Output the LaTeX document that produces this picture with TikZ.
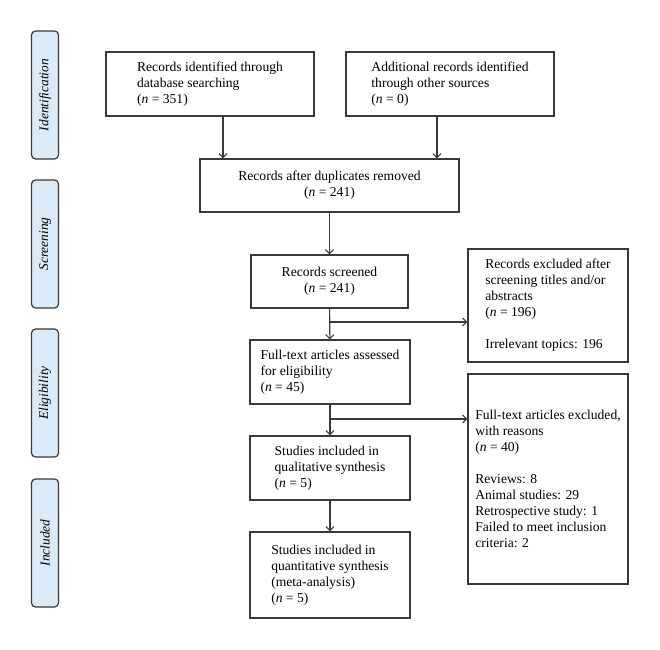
\documentclass[tikz,border=0pt]{standalone}
\usepackage{fontspec}
\setmainfont{Liberation Serif}
\usetikzlibrary{arrows.meta}
\definecolor{colorLine}{RGB}{60,56,52}
\definecolor{colorStage}{RGB}{219,234,247}
\tikzset{
   every path/.style={>={Straight Barb[length=4pt,width=8pt]}},
   box/.style={draw=colorLine,line width=1.2pt,inner sep=0pt,font=\fontsize{13.6}{16}\selectfont},
   stage/.style={draw=colorLine,fill=colorStage,line width=1.2pt,rounded corners=4pt,rotate=90,
     minimum width=128pt,minimum height=27pt,inner sep=0pt,font=\fontsize{13.4}{16}\selectfont\itshape},
   flow/.style={->,color=colorLine,line width=1.1pt},
 }
\newcommand{\dflow}[2]{\draw[flow] (#1) -- (#2)}
\newcommand{\nn}[1]{(\textit{n} = #1)}

\begin{document}
\begin{tikzpicture}[x=1pt,y=-1pt]
      \useasboundingbox (0,0) rectangle (660,649);
      % stages
      \node[stage] (StId) at (45,95) {Identification};
      \node[stage] (StScr) at (45,244) {Screening};
      \node[stage] (StEli) at (45,393) {Eligibility};
      \node[stage] (StInc) at (45,543) {Included};

      \node[box, minimum width=208pt, minimum height=64pt, align=left] (RecDB) at (210,84)
         {Records identified through\\database searching\\\nn{351}};
      \node[box, minimum width=208pt, minimum height=64pt, align=left] (RecOther) at (450,84)
         {Additional records identified\\through other sources\\\nn{0}};
      \node[box, minimum width=259pt, minimum height=53pt, align=center] (RecDup) at (329.5,185.5)
         {Records after duplicates removed\\\nn{241}};
      \draw[flow] ([xshift=13pt]RecDB.south) -- ([xshift=13pt]RecDB.south |- RecDup.north);
      \draw[flow] ([xshift=-13pt]RecOther.south) -- ([xshift=-13pt]RecOther.south |- RecDup.north);

      \node[box, minimum width=157pt, minimum height=53pt, align=center] (RecScr) at (329.5,281.5)
         {Records screened\\\nn{241}};
      \dflow{RecDup}{RecScr};
      \node[box, minimum width=160pt, minimum height=113pt, align=left] (ExScr) at (548,305.5)
         {Records excluded after\\screening titles and/or\\abstracts\\\nn{196}\\[16pt]Irrelevant topics: 196};

      \node[box, minimum width=160pt, minimum height=64pt, align=left] (FullTxt) at (330,372)
         {Full-text articles assessed\\for eligibility\\\nn{45}};
      \dflow{RecScr}{FullTxt};
      \coordinate (BrScr) at (330,322);
      \dflow{BrScr}{BrScr -| ExScr.west};
      \node[box, minimum width=160pt, minimum height=210pt, align=left] (ExFull) at (548,479)
         {Full-text articles excluded,\\with reasons\\\nn{40}\\[16pt]Reviews: 8\\Animal studies: 29\\Retrospective study: 1\\Failed to meet inclusion\\criteria: 2};

      \node[box, minimum width=160pt, minimum height=64pt, align=left] (StQual) at (330,468)
         {Studies included in\\qualitative synthesis\\\nn{5}};
      \dflow{FullTxt}{StQual};
      \coordinate (BrFull) at (330,419);
      \dflow{BrFull}{BrFull -| ExFull.west};

      \node[box, minimum width=160pt, minimum height=86pt, align=left] (StQuant) at (330,575)
         {Studies included in\\quantitative synthesis\\(meta-analysis)\\\nn{5}};
      \dflow{StQual}{StQuant};
    \end{tikzpicture}
\end{document}
